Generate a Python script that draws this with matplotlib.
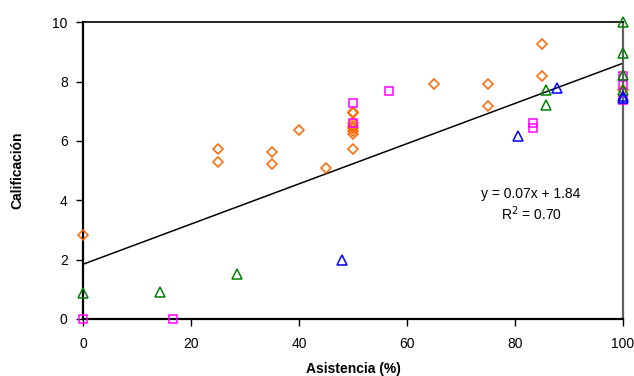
import numpy as np
import matplotlib
matplotlib.use("Agg")
import matplotlib.pyplot as plt

plt.rcParams['font.family'] = ['Liberation Sans', 'DejaVu Sans']

# orange diamonds
x_orange = [0, 25, 25, 35, 35, 40, 45, 50, 50, 50, 50, 50, 50, 50, 50, 65, 75, 75, 85, 85, 100]
y_orange = [2.82, 5.73, 5.29, 5.63, 5.21, 6.37, 5.08, 6.98, 6.95, 6.62, 6.5, 6.42, 6.32, 6.25, 5.72,
            7.91, 7.91, 7.18, 9.27, 8.2, 7.72]
# magenta squares
x_mag = [0, 16.7, 50, 50, 56.7, 83.3, 83.3, 100, 100, 100]
y_mag = [0, 0, 7.29, 6.6, 7.67, 6.6, 6.45, 8.2, 7.88, 7.38]
# green triangles
x_green = [0, 14.3, 28.6, 85.7, 85.7, 100, 100, 100, 100]
y_green = [0.88, 0.91, 1.52, 7.72, 7.2, 10.0, 8.95, 8.22, 7.72]
# blue triangles
x_blue = [48.0, 80.6, 87.7, 100, 100]
y_blue = [2.0, 6.18, 7.8, 7.44, 7.5]

slope = 0.0678
intercept = 1.84
eq_text = "y = 0.07x + 1.84"
r2_text = "R$^2$ = 0.70"

fig = plt.figure(figsize=(6.34, 3.76), dpi=100)
ax = fig.add_axes([0.1309, 0.152, 0.8517, 0.7887])

xs = np.array([0, 100])
ax.plot(xs, slope * xs + intercept, color='black', lw=1.1, zorder=2)

mk = dict(linestyle='none', markerfacecolor='none', markeredgewidth=1.1, clip_on=False, zorder=3)
ax.plot(x_orange, y_orange, marker='D', markersize=5, markeredgecolor='#FF6600', **mk)
ax.plot(x_mag, y_mag, marker='s', markersize=6, markeredgecolor='#FF00FF', **mk)
ax.plot(x_green, y_green, marker='^', markersize=7, markeredgecolor='#008000', **mk)
ax.plot(x_blue, y_blue, marker='^', markersize=7, markeredgecolor='#0000FF', **mk)

ax.set_xlim(0, 100)
ax.set_ylim(0, 10)
ax.set_xticks([0, 20, 40, 60, 80, 100])
ax.set_yticks([0, 2, 4, 6, 8, 10])
ax.tick_params(direction='out', length=5, width=1, labelsize=10, pad=8, colors='black')
ax.tick_params(axis='y', pad=6)

for s in ['left', 'bottom']:
    ax.spines[s].set_linewidth(1.6)
ax.spines['top'].set_linewidth(1.2)
ax.spines['right'].set_linewidth(1.6)
ax.spines['right'].set_color('#606060')

ax.set_xlabel("Asistencia (%)", fontsize=10, fontweight='bold', labelpad=8)
ax.set_ylabel("Calificación", fontsize=10, fontweight='bold', labelpad=20)

ax.text(83, 4.2, eq_text, ha='center', va='center', fontsize=10)
ax.text(83, 3.55, r2_text, ha='center', va='center', fontsize=10)

fig.savefig("out.png", dpi=100)
